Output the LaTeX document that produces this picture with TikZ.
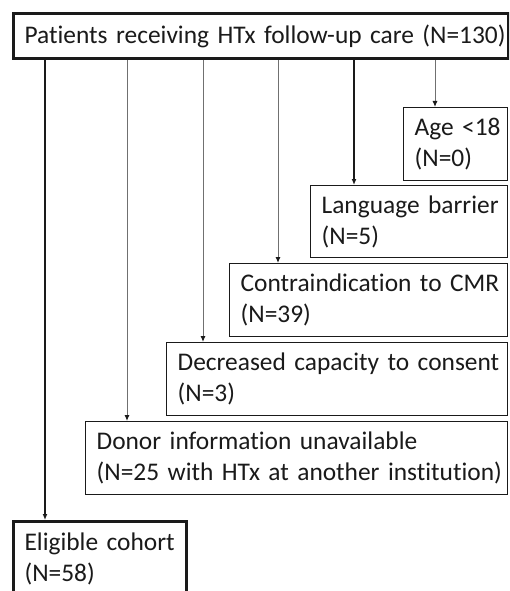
\documentclass[tikz,border=0pt]{standalone}
\usepackage{fontspec}
\setmainfont{Carlito}[Ligatures={NoCommon}]
\usetikzlibrary{arrows.meta}
\definecolor{ink}{HTML}{1A1A1A}
\definecolor{wire}{HTML}{707070}

\tikzset{
  flowbox/.style={draw=ink, line width=1.3pt, anchor=north west,
    inner xsep=0pt, inner ysep=0pt, text=ink,
    font=\fontsize{25.4}{31}\selectfont,
    execute at begin node={\parindent=0pt\leftskip=11pt\rightskip=0pt plus 1fil}},
  keybox/.style={flowbox, line width=3.2pt},
  exarrow/.style={draw=wire, line width=1pt, -{Latex[length=6pt,width=5pt,color=ink]}},
}

\begin{document}
\begin{tikzpicture}[x=1pt, y=-1pt]
  \clip (0,0) rectangle (509,591);
  \fill[white] (0,0) rectangle (509,591);

  % Main boxes
  \node[keybox, minimum height=45pt, text width=495pt] (htx) at (12,12)
    {Patients receiving HTx follow-up care (N=130)};
  \node[keybox, minimum height=74pt, text width=173pt] (cohort) at (12,520)
    {Eligible cohort\\(N=58)};

  % Exclusion boxes
  \node[flowbox, minimum height=73pt, text width=104pt] (age) at (403,107)
    {Age <18\\(N=0)};
  \node[flowbox, minimum height=72pt, text width=197pt] (lang) at (310,185)
    {Language barrier\\(N=5)};
  \node[flowbox, minimum height=73pt, text width=278pt] (cmr) at (229,263)
    {Contraindication to CMR\\(N=39)};
  \node[flowbox, minimum height=73pt, text width=341pt] (consent) at (166,342)
    {Decreased capacity to consent\\(N=3)};
  \node[flowbox, minimum height=73pt, text width=422pt] (donor) at (85,421)
    {Donor information unavailable\\(N=25 with HTx at another institution)};

  % Connectors
  \draw[exarrow] (htx.south -| 435,0) -- (age.north -| 435,0);
  \draw[exarrow, draw=ink, line width=1.3pt] (htx.south -| 354,0) -- (lang.north -| 354,0);
  \draw[exarrow] (htx.south -| 278,0) -- (cmr.north -| 278,0);
  \draw[exarrow] (htx.south -| 203,0) -- (consent.north -| 203,0);
  \draw[exarrow] (htx.south -| 127,0) -- (donor.north -| 127,0);
  \draw[exarrow, draw=ink, line width=2.4pt] (htx.south -| 45,0) -- (cohort.north -| 45,0);

\end{tikzpicture}
\end{document}
